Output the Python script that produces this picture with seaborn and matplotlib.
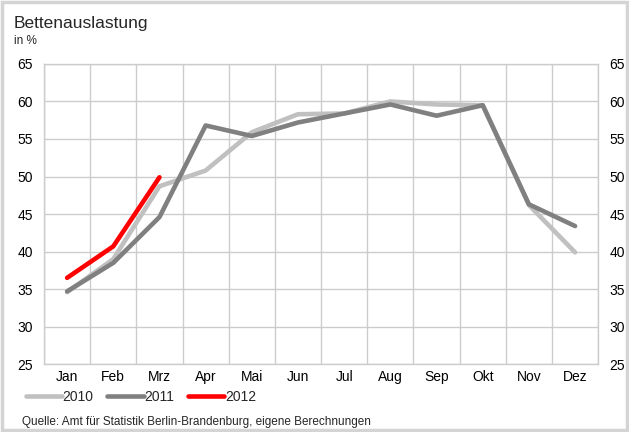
import numpy as np
import pandas as pd
import seaborn as sns
import matplotlib.pyplot as plt
from matplotlib.patches import Rectangle
from matplotlib.lines import Line2D

months = ['Jan', 'Feb', 'Mrz', 'Apr', 'Mai', 'Jun', 'Jul', 'Aug', 'Sep', 'Okt', 'Nov', 'Dez']
y2010 = [34.6, 39.0, 48.7, 50.8, 55.9, 58.3, 58.4, 60.0, 59.6, 59.5, 46.2, 39.9]
y2011 = [34.7, 38.5, 44.6, 56.8, 55.4, 57.2, 58.4, 59.6, 58.1, 59.5, 46.3, 43.4]
y2012 = [36.5, 40.7, 49.9]
years = ['2010', '2011', '2012']
colors = ['#c0c0c0', '#808080', '#ff0000']

rows = []
for year, vals in zip(years, [y2010, y2011, y2012]):
    for m, v in zip(months, vals):
        rows.append({'Monat': m, 'Wert': v, 'Jahr': year})
df = pd.DataFrame(rows)

sns.set_theme(style='white')
plt.rcParams['font.family'] = ['Liberation Sans', 'DejaVu Sans']

fig = plt.figure(figsize=(6.29, 4.32), dpi=100)
ax = fig.add_axes([0.070, 0.157, 0.881, 0.695])

sns.lineplot(data=df, x='Monat', y='Wert', hue='Jahr', hue_order=years,
             palette=colors, linewidth=3.3, sort=False, legend=False, ax=ax,
             solid_capstyle='round')

ax.set_xlim(-0.5, 11.5)
ax.set_ylim(25, 65)
ax.set_yticks(np.arange(25, 66, 5))
ax.set_xticks(range(12))
ax.set_xticklabels(months)
ax.set_xticks(np.arange(-0.5, 12, 1), minor=True)
ax.grid(False)
ax.grid(axis='y', which='major', color='#cccccc', linewidth=1)
ax.grid(axis='x', which='minor', color='#cccccc', linewidth=1)
ax.set_axisbelow(True)
for s in ax.spines.values():
    s.set_color('#cccccc')
    s.set_linewidth(1)
ax.tick_params(axis='both', which='both', length=0, labelsize=10, colors='#000000')
ax.tick_params(axis='y', labelright=True, pad=8)
ax.tick_params(axis='x', pad=4)
ax.set_xlabel('')
ax.set_ylabel('')

fig.text(0.022, 0.935, 'Bettenauslastung', fontsize=12.5, ha='left', va='baseline')
fig.text(0.022, 0.898, 'in %', fontsize=8.5, ha='left', va='baseline')

handles = [Line2D([], [], color=c, linewidth=3.3) for c in colors]
fig.legend(handles, years, loc='center left', bbox_to_anchor=(0.041, 0.081),
           ncol=3, frameon=False, fontsize=10, handlelength=2.6,
           handletextpad=0.05, columnspacing=1.0, borderaxespad=0, borderpad=0)

fig.text(0.035, 0.016, 'Quelle: Amt für Statistik Berlin-Brandenburg, eigene Berechnungen',
         fontsize=8.5, ha='left', va='baseline')

fig.patches.append(Rectangle((0.003, 0.004), 0.994, 0.992, transform=fig.transFigure,
                             fill=False, edgecolor='#d4d4d4', linewidth=2.5))

fig.savefig('out.png', dpi=100)
